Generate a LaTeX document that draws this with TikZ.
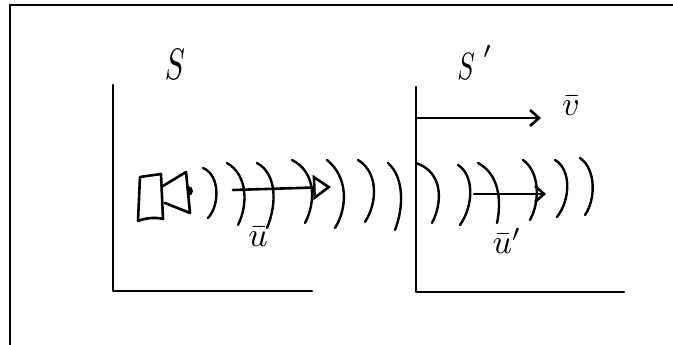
\documentclass[tikz,border=0pt]{standalone}
\usepackage{graphicx}
\usetikzlibrary{arrows.meta}
\begin{document}
\begin{tikzpicture}[x=1pt,y=-1pt,
  pen/.style={line width=2.6pt,line cap=round,line join=round},
  wave/.style={pen,line width=2.4pt},
  lbl/.style={inner sep=0pt},
  barb/.style={pen,-{Straight Barb[length=9pt,width=16pt,line width=2.6pt]}},
  tri/.style={pen,-{Triangle[open,length=18pt,width=25pt,line width=2.6pt]}}]
\useasboundingbox (0,0) rectangle (673,345);
% border
\draw[line width=2.8pt] (10,347) -- (10,5) -- (675,5);
% frame S
\coordinate (S0) at (113,291);
\coordinate (Stop) at (113,85);
\coordinate (Sx) at (312,291);
\draw[pen] (Stop) -- (S0) -- (Sx);
% frame S'
\coordinate (P0) at (416,292);
\coordinate (Ptop) at (416,87);
\coordinate (Px) at (624,292);
\draw[pen] (Ptop) -- (P0) -- (Px);
% labels
\node[lbl] (lS) at (175,64) {\scalebox{3.0}[4.4]{$S$}};
\node[lbl] (lSp) at (466,67) {\scalebox{2.6}[3.8]{$S$}};
\node[lbl] (lpr) at (488,58) {\scalebox{3.4}{$'$}};
\node[lbl] (lv) at (571,106) {\scalebox{3.4}{$\bar{v}$}};
\node[lbl] (lu) at (258,237) {\scalebox{3.4}{$\bar{u}$}};
\node[lbl] (lup) at (507,241) {\scalebox{3.4}{$\bar{u}'$}};
% speaker
\draw[pen] (138,221) -- (140,177) -- (161,174) -- (163,219) .. controls (155,217) and (145,218) .. (138,221);
\draw[pen] (163,186) -- (186,172) -- (190,213) -- (165,203);
\fill (188,186) arc[start angle=90,end angle=-90,radius=5pt] -- cycle;
% waves
\foreach \ax/\ay/\bx/\by/\cx/\cy in {
  203/168/217/193/208/218,
  227/163/245/193/238/225,
  257/163/274/192/267/228,
  292/160/313/190/305/223,
  327/160/345/195/335/228,
  358/160/375/190/365/222,
  388/163/401/195/395/230,
  416/163/440/190/432/223,
  458/165/471/193/460/225,
  478/163/498/193/497/223,
  523/160/537/190/530/220,
  555/160/568/187/557/217,
  580/158/593/187/585/215}
  \draw[wave] (\ax,\ay) .. controls (\bx+3,\by-18) and (\bx+3,\by+12) .. (\cx,\cy);
% arrows
\coordinate (ua) at (233,190);
\coordinate (ub) at (331,187);
\draw[tri] (ua) -- (ub);
\coordinate (upa) at (474,194);
\coordinate (upb) at (546,194);
\draw[barb] (upa) -- (upb);
\coordinate (va) at (416,118);
\coordinate (vb) at (541,118);
\draw[barb] (va) -- (vb);
\end{tikzpicture}
\end{document}
